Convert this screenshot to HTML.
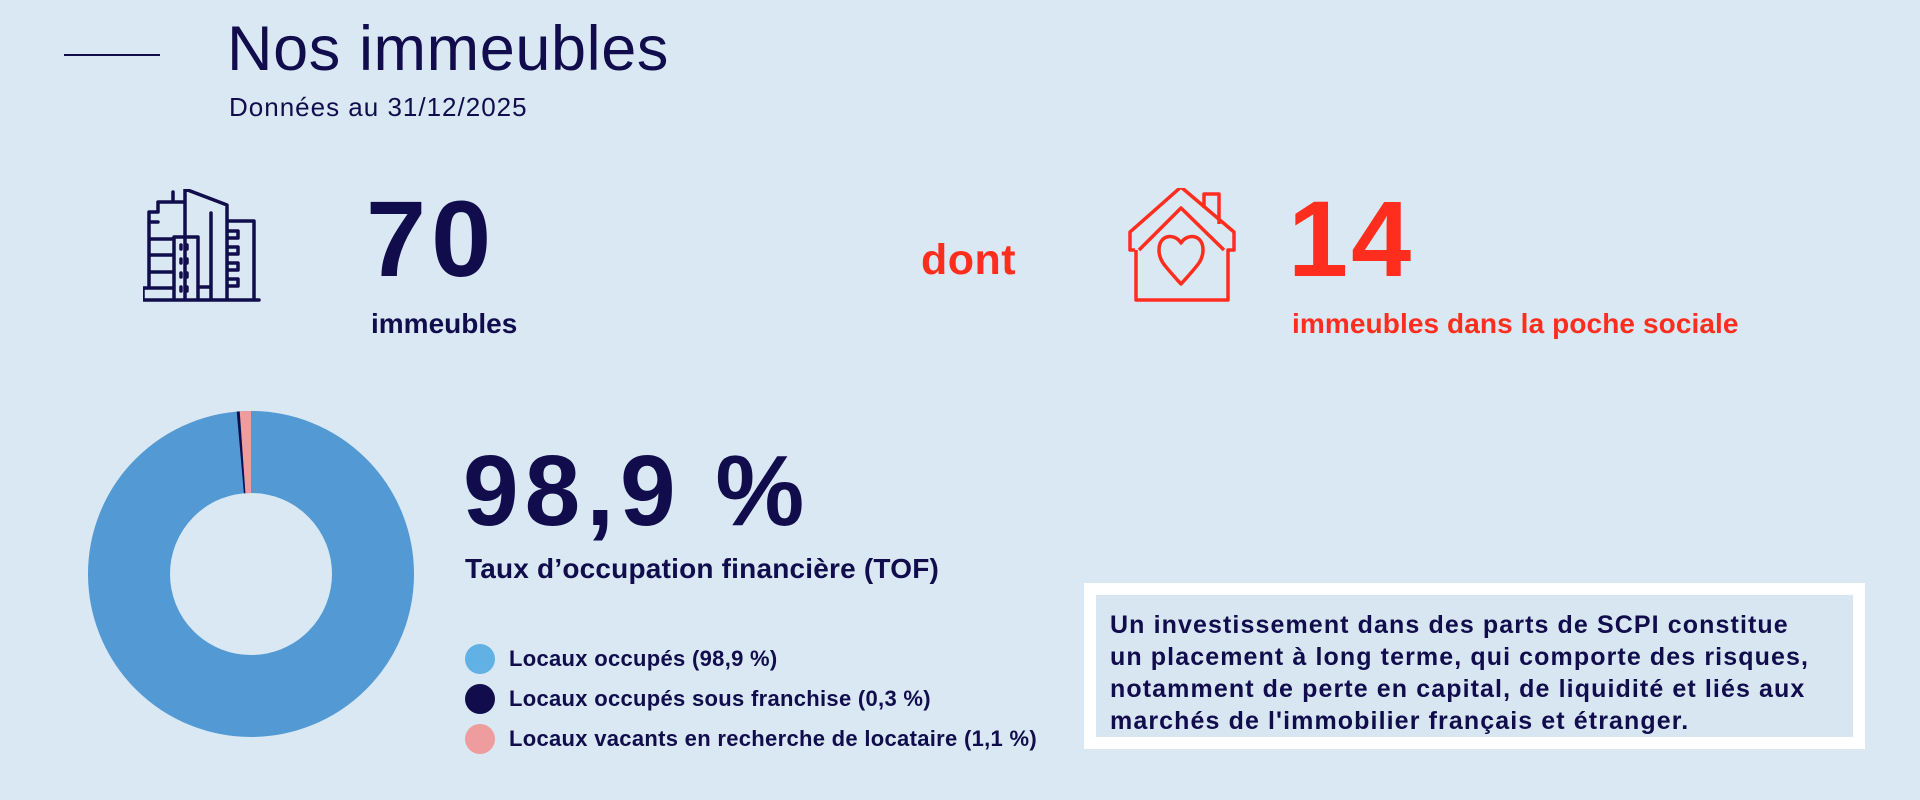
<!DOCTYPE html>
<html><head><meta charset="utf-8"><style>
*{margin:0;padding:0;box-sizing:border-box}
body{width:1920px;height:800px;background:#d9e8f3;position:relative;overflow:hidden;font-family:"Liberation Sans",sans-serif;color:#110d4d}
.a{position:absolute;white-space:nowrap}
.b{font-weight:bold}
.red{color:#ff2d1e}
</style></head><body>
<div class="a" style="left:64px;top:54px;width:96px;height:2px;background:#110d4d"></div>
<div class="a" style="left:227px;top:14px;font-size:63px;line-height:70px;letter-spacing:0.6px">Nos immeubles</div>
<div class="a" style="left:229px;top:92px;font-size:26px;line-height:30px;letter-spacing:1px">Données au 31/12/2025</div>

<svg class="a" style="left:143px;top:189px" width="118" height="114" viewBox="0 0 118 114" fill="none" stroke="#110d4d" stroke-width="3.5" stroke-linecap="round" stroke-linejoin="round">
<path d="M0 111 H116 M0 111 V99 H31 M6 99 V23 H15 V13 H42 M6 33 H15 M6 50 H31 M6 66 H31 M6 83 H31 M30 3 V13 M42 111 V0 L84 16 V111 M68 24 V111 M84 32 H111 V111 M31 111 V48 H55 V111 M38 56 V60 M44 56 V60 M38 70 V74 M44 70 V74 M38 84 V88 M44 84 V88 M38 98 V102 M44 98 V102 M84 42 H95 V49 H84 M84 58 H95 V65 H84 M84 74 H95 V81 H84 M84 90 H95 V97 H84 M55 98 H68"/>
</svg>
<div class="a b" style="left:366px;top:183px;font-size:108px;line-height:112px;letter-spacing:5px">70</div>
<div class="a b" style="left:371px;top:306px;font-size:28px;line-height:36px">immeubles</div>

<div class="a b red" style="left:921px;top:235px;font-size:43px;line-height:50px;letter-spacing:0.5px">dont</div>
<svg class="a" style="left:1125px;top:188px" width="112" height="115" viewBox="0 0 112 115" fill="none" stroke="#ff2d1e" stroke-width="3.5" stroke-linejoin="round">
<path d="M10 62 H5 V44 L56 -1 L109 44 V62 H103 V112 H11 V62 M14 62 L56 20 L99 62 M79 20 V6 H94 V36"/>
<path d="M56 55 C50 45 34 46 34 62 C34 72 38 76 56 96 C74 76 78 72 78 62 C78 46 62 45 56 55 Z"/>
</svg>
<div class="a b red" style="left:1288px;top:183px;font-size:108px;line-height:112px;letter-spacing:3px">14</div>
<div class="a b red" style="left:1292px;top:306px;font-size:28px;line-height:36px;letter-spacing:0.1px">immeubles dans la poche sociale</div>

<svg class="a" style="left:88px;top:411px" width="326" height="326" viewBox="-163 -163 326 326">
<circle r="122" fill="none" stroke="#5399d4" stroke-width="82"/>
<path d="M0 -163 A163 163 0 0 0 -11.3 -162.6 L-5.6 -80.8 A81 81 0 0 1 0 -81 Z" fill="#ee9c9e"/>
<path d="M-11.3 -162.6 A163 163 0 0 0 -14.3 -162.4 L-7.1 -80.7 A81 81 0 0 1 -5.6 -80.8 Z" fill="#110d4d"/>
</svg>

<div class="a b" style="left:463px;top:438px;font-size:100px;line-height:106px;letter-spacing:6px">98,9 %</div>
<div class="a b" style="left:465px;top:551px;font-size:28px;line-height:36px;letter-spacing:0.2px">Taux d’occupation financière (TOF)</div>

<div class="a" style="left:465px;top:644px;width:30px;height:30px;border-radius:50%;background:#62b1e5"></div>
<div class="a b" style="left:509px;top:646px;font-size:22px;line-height:26px;letter-spacing:0.3px">Locaux occupés (98,9 %)</div>
<div class="a" style="left:465px;top:684px;width:30px;height:30px;border-radius:50%;background:#110d4d"></div>
<div class="a b" style="left:509px;top:686px;font-size:22px;line-height:26px;letter-spacing:0.3px">Locaux occupés sous franchise (0,3 %)</div>
<div class="a" style="left:465px;top:724px;width:30px;height:30px;border-radius:50%;background:#ee9c9e"></div>
<div class="a b" style="left:509px;top:726px;font-size:22px;line-height:26px;letter-spacing:0.3px">Locaux vacants en recherche de locataire (1,1 %)</div>

<div class="a" style="left:1084px;top:583px;width:781px;height:166px;border:12px solid #fff;background:#d7e6f1"></div>
<div class="a b" style="left:1110px;top:609px;font-size:25px;line-height:32px;letter-spacing:1.1px">Un investissement dans des parts de SCPI constitue<br>un placement à long terme, qui comporte des risques,<br>notamment de perte en capital, de liquidité et liés aux<br>marchés de l'immobilier français et étranger.</div>
</body></html>
